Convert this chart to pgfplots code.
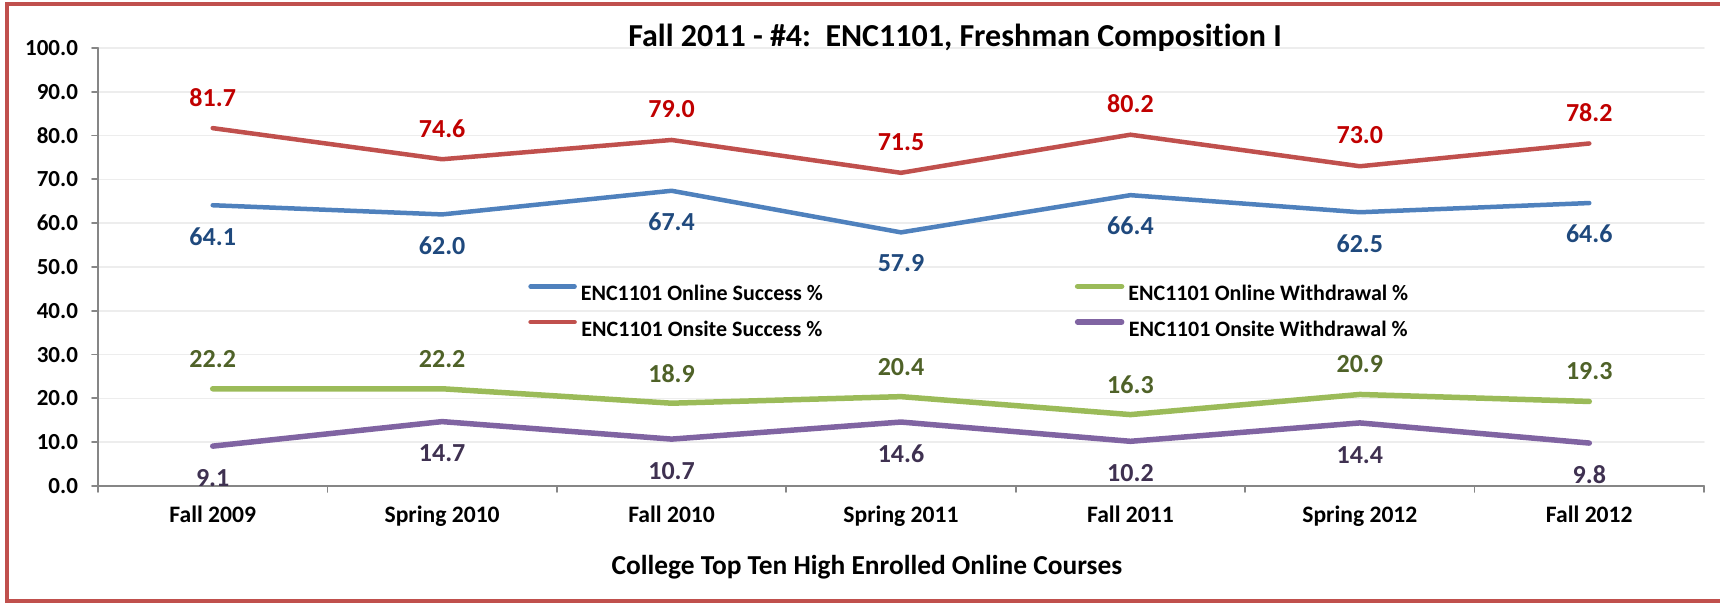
\documentclass[border=0pt]{standalone}
\usepackage{pgfplots}
\pgfplotsset{compat=1.18}
\usepackage{fontspec}
\setmainfont{Carlito}[Ligatures=NoCommon]
\definecolor{cblue}{HTML}{4F81BD}
\definecolor{cred}{HTML}{C0504D}
\definecolor{cgreen}{HTML}{9BBB59}
\definecolor{cpurple}{HTML}{8064A2}
\definecolor{lblue}{HTML}{1F497D}
\definecolor{lred}{HTML}{C00000}
\definecolor{lgreen}{HTML}{4F6228}
\definecolor{lpurple}{HTML}{3F3151}
\definecolor{frm}{HTML}{C0504D}
\definecolor{axgray}{HTML}{868686}
\definecolor{grd}{HTML}{EDEDED}

\pgfplotstableread{
x onlinesucc onsitesucc onlinewd onsitewd
0 64.1 81.7 22.2 9.1
1 62.0 74.6 22.2 14.7
2 67.4 79.0 18.9 10.7
3 57.9 71.5 20.4 14.6
4 66.4 80.2 16.3 10.2
5 62.5 73.0 20.9 14.4
6 64.6 78.2 19.3 9.8
}\data

\begin{document}
\begin{tikzpicture}
\useasboundingbox (-49pt,-58.5pt) rectangle (811pt,243pt);
\begin{axis}[
  at={(0,0)}, anchor=south west,
  scale only axis, width=803pt, height=219pt,
  xmin=-0.5, xmax=6.5, ymin=0, ymax=100,
  xtick={-0.5,0.5,1.5,2.5,3.5,4.5,5.5,6.5},
  x tick label as interval,
  xticklabels={Fall 2009,Spring 2010,Fall 2010,Spring 2011,Fall 2011,Spring 2012,Fall 2012},
  ytick={0,10,...,100},
  ymajorgrids, grid style={color=grd, line width=0.8pt},
  axis x line*=bottom, axis y line*=left,
  axis line style={color=axgray, line width=0.9pt, -},
  tick style={color=axgray, line width=0.9pt},
  tick align=outside, major tick length=3pt,
  xticklabel style={font=\fontsize{11.8}{14}\selectfont\bfseries, yshift=-3.5pt},
  yticklabel style={font=\fontsize{11.5}{13}\selectfont\bfseries, /pgf/number format/.cd, fixed, fixed zerofill, precision=1, assume math mode=true, /tikz/.cd, xshift=-3.5pt},
  clip=false,
  legend columns=2,
  legend style={at={(axis cs:1.374,46.3)}, anchor=north west, draw=none, fill=none, inner sep=0pt,
    row sep=8.5pt,
    nodes={inner sep=0pt, text height=8pt, text depth=1pt, font=\fontsize{11}{13}\selectfont\bfseries},
    /tikz/every odd column/.append style={column sep=2pt},
    /tikz/every even column/.append style={column sep=126pt}},
  legend image code/.code={\draw[#1, line cap=round] (0pt,3.5pt) -- (22pt,3.5pt);},
  nodes near coords={\pgfmathprintnumber[fixed,fixed zerofill,precision=1,assume math mode=true]{\pgfplotspointmeta}},
  every node near coord/.append style={font=\fontsize{13}{15}\selectfont\bfseries, anchor=center, inner sep=0pt},
  line join=round, line cap=round,
]
\addplot[color=cblue, line width=2.25pt, mark=none,
  every node near coord/.append style={text=lblue, yshift=-15.5pt}]
  table[x=x, y=onlinesucc] {\data};
\addlegendentry{ENC1101 Online Success \%}
\addplot[color=cgreen, line width=2.75pt, mark=none,
  every node near coord/.append style={text=lgreen, yshift=15pt}]
  table[x=x, y=onlinewd] {\data};
\addlegendentry{ENC1101 Online Withdrawal \%}
\addplot[color=cred, line width=2.25pt, mark=none,
  every node near coord/.append style={text=lred, yshift=15.5pt}]
  table[x=x, y=onsitesucc] {\data};
\addlegendentry{ENC1101 Onsite Success \%}
\addplot[color=cpurple, line width=2.75pt, mark=none,
  every node near coord/.append style={text=lpurple, yshift=-16pt}]
  table[x=x, y=onsitewd] {\data};
\addlegendentry{ENC1101 Onsite Withdrawal \%}
\end{axis}
\node[anchor=base, font=\fontsize{16}{19}\selectfont\bfseries] at (428.5pt,219.5pt) {Fall 2011 - \#4:\ \ ENC1101, Freshman Composition I};
\node[anchor=base, font=\fontsize{13.7}{16}\selectfont\bfseries] at (384.5pt,-44.5pt) {College Top Ten High Enrolled Online Courses};
\draw[frm, line width=2pt] (-45.5pt,-57.75pt) rectangle (830pt,240.75pt);
\end{tikzpicture}
\end{document}
